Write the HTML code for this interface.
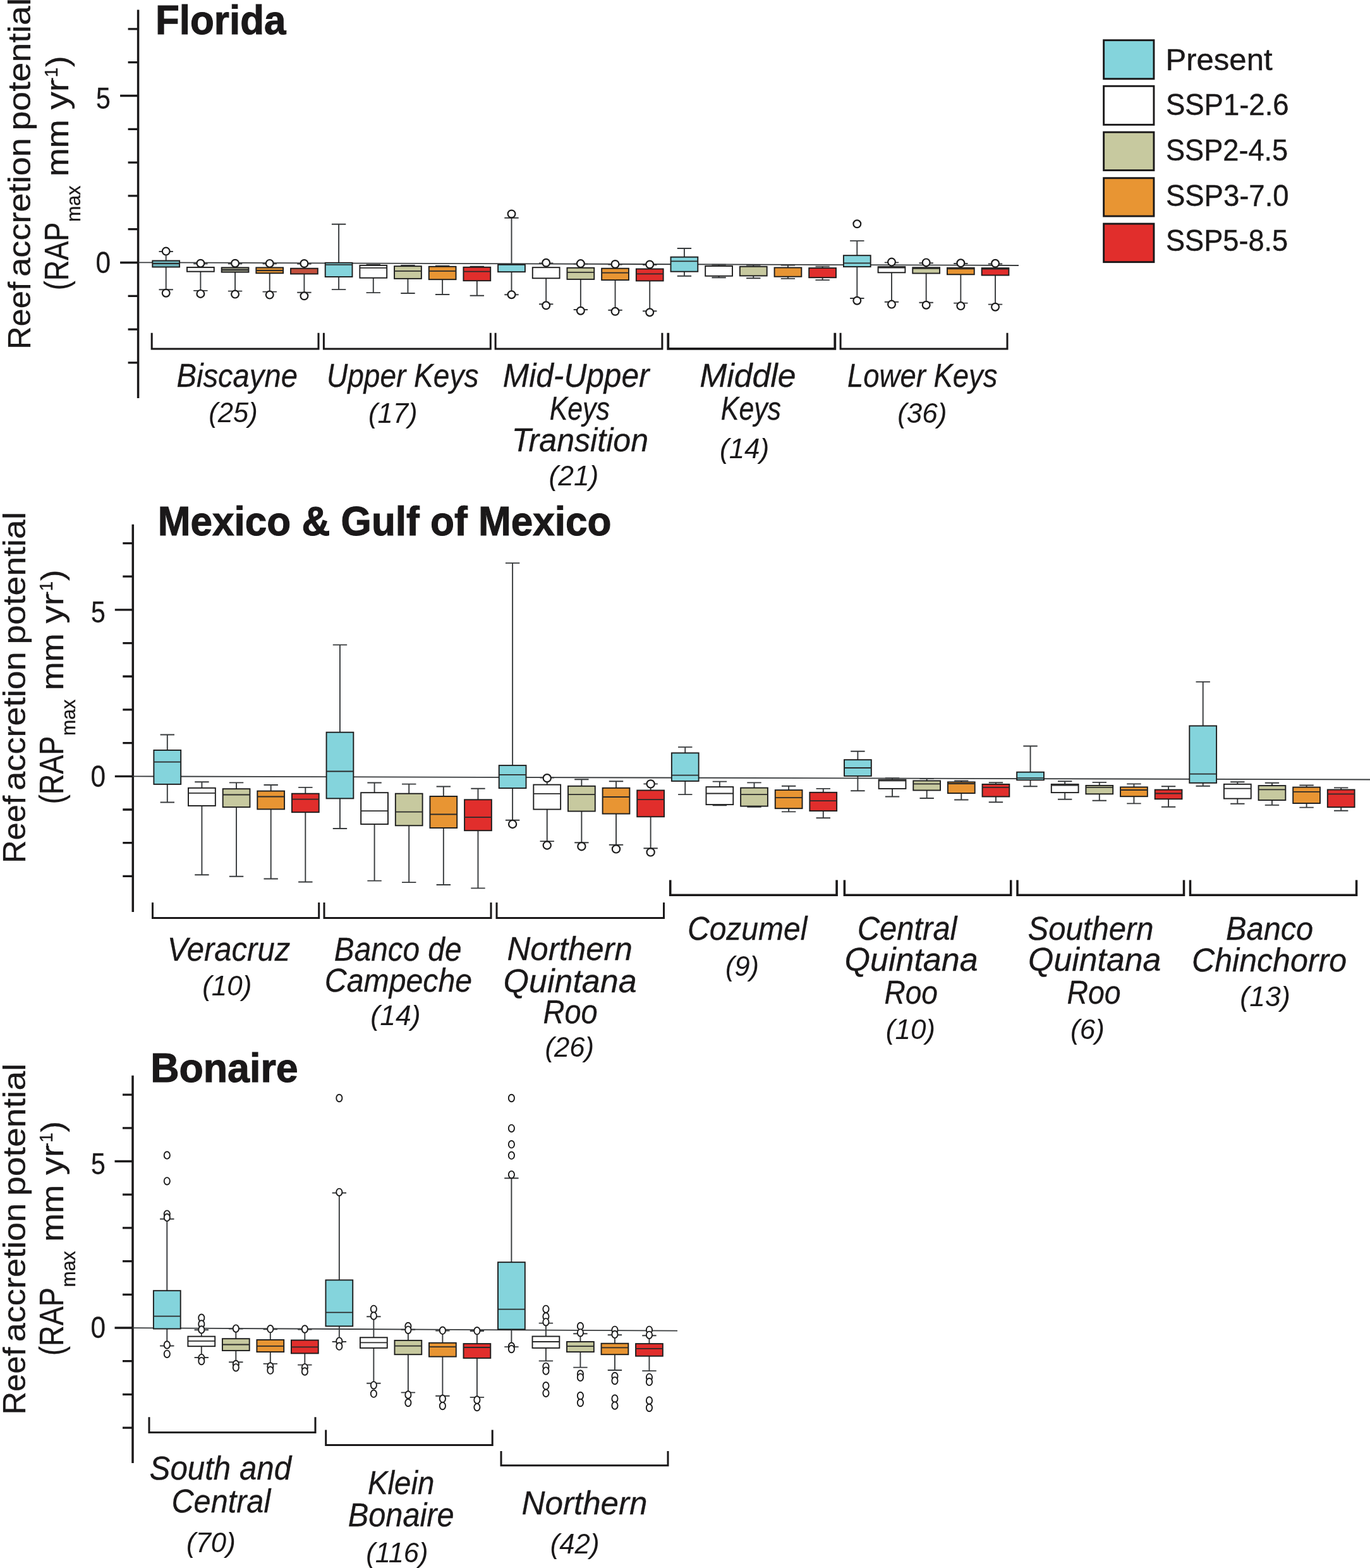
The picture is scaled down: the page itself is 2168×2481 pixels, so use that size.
<!DOCTYPE html>
<html lang="en"><head><meta charset="utf-8"><title>Reef accretion potential</title>
<style>html,body{margin:0;padding:0;background:#fff}svg{display:block}</style></head>
<body>
<svg width="2168" height="2481" viewBox="0 0 2168 2481" font-family="'Liberation Sans', Arial, sans-serif" fill="#1a1819">
<rect width="2168" height="2481" fill="#fff"/>
<g stroke="#1a1819" stroke-width="3.5" fill="none">
<path d="M218.6 15.5V630"/>
<path d="M202.6 573.9H218.6M202.6 521.1H218.6M202.6 468.3H218.6M190.1 415.5H218.6M202.6 362.7H218.6M202.6 309.9H218.6M202.6 257.1H218.6M202.6 204.3H218.6M190.1 151.5H218.6M202.6 98.7H218.6M202.6 45.9H218.6" stroke-width="3.3"/>
</g>
<path d="M219 415.3L1612 420" stroke="#383b3d" stroke-width="1.8" fill="none"/>
<g stroke="#1a1819" stroke-width="3.5" fill="none">
<path d="M210.3 829.7V1443"/>
<path d="M194.3 1386.34H210.3M194.3 1333.66H210.3M194.3 1280.98H210.3M181.8 1228.3H210.3M194.3 1175.62H210.3M194.3 1122.94H210.3M194.3 1070.26H210.3M194.3 1017.58H210.3M181.8 964.9H210.3M194.3 912.22H210.3M194.3 859.54H210.3" stroke-width="3.3"/>
</g>
<path d="M210 1228.4L2168 1233.5" stroke="#383b3d" stroke-width="1.8" fill="none"/>
<g stroke="#1a1819" stroke-width="3.5" fill="none">
<path d="M210 1701.8V2315"/>
<path d="M194 2259.1H210M194 2206.4H210M194 2153.7H210M181.5 2101H210M194 2048.3H210M194 1995.6H210M194 1942.9H210M194 1890.2H210M181.5 1837.5H210M194 1784.8H210M194 1732.1H210" stroke-width="3.3"/>
</g>
<path d="M210 2101.2L1072 2105.7" stroke="#383b3d" stroke-width="1.8" fill="none"/>
<path d="M262.7 412.5V398M251.5 398H273.9M262.7 422.5V458.2M251.5 458.2H273.9" stroke="#383b3d" stroke-width="1.9" fill="none"/><rect x="241.3" y="412.5" width="42.8" height="10" fill="#6fb3bb" stroke="#1d1d1d" stroke-width="1.9"/><path d="M241.3 417H284.1" stroke="#2a2a2a" stroke-width="1.8" fill="none"/><ellipse cx="262.7" cy="397.6" rx="5.9" ry="5.9" fill="#fff" stroke="#1d1d1d" stroke-width="2.2"/><ellipse cx="262.7" cy="463.7" rx="5.9" ry="5.9" fill="#fff" stroke="#1d1d1d" stroke-width="2.2"/>
<path d="M317.38 423V417.2M306.18 417.2H328.58M317.38 429.7V459.9M306.18 459.9H328.58" stroke="#383b3d" stroke-width="1.9" fill="none"/><rect x="295.98" y="423" width="42.8" height="6.7" fill="#f4f4f4" stroke="#1d1d1d" stroke-width="1.9"/><ellipse cx="317.38" cy="416.7" rx="5.9" ry="5.9" fill="#fff" stroke="#1d1d1d" stroke-width="2.2"/><ellipse cx="317.38" cy="464.9" rx="5.9" ry="5.9" fill="#fff" stroke="#1d1d1d" stroke-width="2.2"/>
<path d="M372.06 423.4V417.2M360.86 417.2H383.26M372.06 430.6V460.6M360.86 460.6H383.26" stroke="#383b3d" stroke-width="1.9" fill="none"/><rect x="350.66" y="423.4" width="42.8" height="7.2" fill="#9a9c88" stroke="#1d1d1d" stroke-width="1.9"/><path d="M350.66 427H393.46" stroke="#2a2a2a" stroke-width="1.8" fill="none"/><ellipse cx="372.06" cy="416.7" rx="5.9" ry="5.9" fill="#fff" stroke="#1d1d1d" stroke-width="2.2"/><ellipse cx="372.06" cy="465.6" rx="5.9" ry="5.9" fill="#fff" stroke="#1d1d1d" stroke-width="2.2"/>
<path d="M426.74 423.4V417.4M415.54 417.4H437.94M426.74 432.3V461.6M415.54 461.6H437.94" stroke="#383b3d" stroke-width="1.9" fill="none"/><rect x="405.34" y="423.4" width="42.8" height="8.9" fill="#d98f35" stroke="#1d1d1d" stroke-width="1.9"/><path d="M405.34 428H448.14" stroke="#2a2a2a" stroke-width="1.8" fill="none"/><ellipse cx="426.74" cy="416.9" rx="5.9" ry="5.9" fill="#fff" stroke="#1d1d1d" stroke-width="2.2"/><ellipse cx="426.74" cy="466.6" rx="5.9" ry="5.9" fill="#fff" stroke="#1d1d1d" stroke-width="2.2"/>
<path d="M481.42 424.7V417.6M470.22 417.6H492.62M481.42 433.4V462.7M470.22 462.7H492.62" stroke="#383b3d" stroke-width="1.9" fill="none"/><rect x="460.02" y="424.7" width="42.8" height="8.7" fill="#c4503d" stroke="#1d1d1d" stroke-width="1.9"/><ellipse cx="481.42" cy="417" rx="5.9" ry="5.9" fill="#fff" stroke="#1d1d1d" stroke-width="2.2"/><ellipse cx="481.42" cy="468.3" rx="5.9" ry="5.9" fill="#fff" stroke="#1d1d1d" stroke-width="2.2"/>
<path d="M536.1 415.8V354.7M524.9 354.7H547.3M536.1 438V458.1M524.9 458.1H547.3" stroke="#383b3d" stroke-width="1.9" fill="none"/><rect x="514.7" y="415.8" width="42.8" height="22.2" fill="#84d4dc" stroke="#1d1d1d" stroke-width="1.9"/><path d="M514.7 418.8H557.5" stroke="#2a2a2a" stroke-width="1.8" fill="none"/>
<path d="M590.78 419.9V418.8M579.58 418.8H601.98M590.78 439.7V463.1M579.58 463.1H601.98" stroke="#383b3d" stroke-width="1.9" fill="none"/><rect x="569.38" y="419.9" width="42.8" height="19.8" fill="#ffffff" stroke="#1d1d1d" stroke-width="1.9"/><path d="M569.38 423.8H612.18" stroke="#2a2a2a" stroke-width="1.8" fill="none"/>
<path d="M645.46 421.2V420M634.26 420H656.66M645.46 440.9V464M634.26 464H656.66" stroke="#383b3d" stroke-width="1.9" fill="none"/><rect x="624.06" y="421.2" width="42.8" height="19.7" fill="#c7c99f" stroke="#1d1d1d" stroke-width="1.9"/><path d="M624.06 428.8H666.86" stroke="#2a2a2a" stroke-width="1.8" fill="none"/>
<path d="M700.14 421.8V420.6M688.94 420.6H711.34M700.14 442.2V466M688.94 466H711.34" stroke="#383b3d" stroke-width="1.9" fill="none"/><rect x="678.74" y="421.8" width="42.8" height="20.4" fill="#e89533" stroke="#1d1d1d" stroke-width="1.9"/><path d="M678.74 428.8H721.54" stroke="#2a2a2a" stroke-width="1.8" fill="none"/>
<path d="M754.82 422.8V421.6M743.62 421.6H766.02M754.82 444.2V467.8M743.62 467.8H766.02" stroke="#383b3d" stroke-width="1.9" fill="none"/><rect x="733.42" y="422.8" width="42.8" height="21.4" fill="#e12e2c" stroke="#1d1d1d" stroke-width="1.9"/><path d="M733.42 429.7H776.22" stroke="#2a2a2a" stroke-width="1.8" fill="none"/>
<path d="M809.5 418.8V344.8M798.3 344.8H820.7M809.5 430.2V466.2M798.3 466.2H820.7" stroke="#383b3d" stroke-width="1.9" fill="none"/><rect x="788.1" y="418.8" width="42.8" height="11.4" fill="#84d4dc" stroke="#1d1d1d" stroke-width="1.9"/><ellipse cx="809.5" cy="338.5" rx="5.9" ry="5.9" fill="#fff" stroke="#1d1d1d" stroke-width="2.2"/><ellipse cx="809.5" cy="466.2" rx="5.9" ry="5.9" fill="#fff" stroke="#1d1d1d" stroke-width="2.2"/>
<path d="M864.18 423.2V416.5M852.98 416.5H875.38M864.18 440.3V481.3M852.98 481.3H875.38" stroke="#383b3d" stroke-width="1.9" fill="none"/><rect x="842.78" y="423.2" width="42.8" height="17.1" fill="#ffffff" stroke="#1d1d1d" stroke-width="1.9"/><ellipse cx="864.18" cy="415.8" rx="5.9" ry="5.9" fill="#fff" stroke="#1d1d1d" stroke-width="2.2"/><ellipse cx="864.18" cy="483.3" rx="5.9" ry="5.9" fill="#fff" stroke="#1d1d1d" stroke-width="2.2"/>
<path d="M918.86 423.8V417.6M907.66 417.6H930.06M918.86 441.9V490M907.66 490H930.06" stroke="#383b3d" stroke-width="1.9" fill="none"/><rect x="897.46" y="423.8" width="42.8" height="18.1" fill="#c7c99f" stroke="#1d1d1d" stroke-width="1.9"/><path d="M897.46 430.9H940.26" stroke="#2a2a2a" stroke-width="1.8" fill="none"/><ellipse cx="918.86" cy="417.1" rx="5.9" ry="5.9" fill="#fff" stroke="#1d1d1d" stroke-width="2.2"/><ellipse cx="918.86" cy="491.7" rx="5.9" ry="5.9" fill="#fff" stroke="#1d1d1d" stroke-width="2.2"/>
<path d="M973.54 424.7V418.5M962.34 418.5H984.74M973.54 443.1V490.8M962.34 490.8H984.74" stroke="#383b3d" stroke-width="1.9" fill="none"/><rect x="952.14" y="424.7" width="42.8" height="18.4" fill="#e89533" stroke="#1d1d1d" stroke-width="1.9"/><path d="M952.14 431.7H994.94" stroke="#2a2a2a" stroke-width="1.8" fill="none"/><ellipse cx="973.54" cy="418" rx="5.9" ry="5.9" fill="#fff" stroke="#1d1d1d" stroke-width="2.2"/><ellipse cx="973.54" cy="492.8" rx="5.9" ry="5.9" fill="#fff" stroke="#1d1d1d" stroke-width="2.2"/>
<path d="M1028.22 425.5V419M1017.02 419H1039.42M1028.22 444.4V492.2M1017.02 492.2H1039.42" stroke="#383b3d" stroke-width="1.9" fill="none"/><rect x="1006.82" y="425.5" width="42.8" height="18.9" fill="#e12e2c" stroke="#1d1d1d" stroke-width="1.9"/><path d="M1006.82 433.4H1049.62" stroke="#2a2a2a" stroke-width="1.8" fill="none"/><ellipse cx="1028.22" cy="418.5" rx="5.9" ry="5.9" fill="#fff" stroke="#1d1d1d" stroke-width="2.2"/><ellipse cx="1028.22" cy="494.2" rx="5.9" ry="5.9" fill="#fff" stroke="#1d1d1d" stroke-width="2.2"/>
<path d="M1082.9 406.7V393M1071.7 393H1094.1M1082.9 429.7V436.7M1071.7 436.7H1094.1" stroke="#383b3d" stroke-width="1.9" fill="none"/><rect x="1061.5" y="406.7" width="42.8" height="23" fill="#84d4dc" stroke="#1d1d1d" stroke-width="1.9"/><path d="M1061.5 413.4H1104.3" stroke="#2a2a2a" stroke-width="1.8" fill="none"/>
<path d="M1137.58 421V418.8M1126.38 418.8H1148.78M1137.58 436.7V439.2M1126.38 439.2H1148.78" stroke="#383b3d" stroke-width="1.9" fill="none"/><rect x="1116.18" y="421" width="42.8" height="15.7" fill="#ffffff" stroke="#1d1d1d" stroke-width="1.9"/>
<path d="M1192.26 421.8V419.6M1181.06 419.6H1203.46M1192.26 436.4V440.2M1181.06 440.2H1203.46" stroke="#383b3d" stroke-width="1.9" fill="none"/><rect x="1170.86" y="421.8" width="42.8" height="14.6" fill="#c7c99f" stroke="#1d1d1d" stroke-width="1.9"/>
<path d="M1246.94 423.5V419.5M1235.74 419.5H1258.14M1246.94 437.7V440.9M1235.74 440.9H1258.14" stroke="#383b3d" stroke-width="1.9" fill="none"/><rect x="1225.54" y="423.5" width="42.8" height="14.2" fill="#e89533" stroke="#1d1d1d" stroke-width="1.9"/>
<path d="M1301.62 424.1V421.6M1290.42 421.6H1312.82M1301.62 439.2V443.1M1290.42 443.1H1312.82" stroke="#383b3d" stroke-width="1.9" fill="none"/><rect x="1280.22" y="424.1" width="42.8" height="15.1" fill="#e12e2c" stroke="#1d1d1d" stroke-width="1.9"/>
<path d="M1356.3 404.2V381.1M1345.1 381.1H1367.5M1356.3 422.1V472M1345.1 472H1367.5" stroke="#383b3d" stroke-width="1.9" fill="none"/><rect x="1334.9" y="404.2" width="42.8" height="17.9" fill="#84d4dc" stroke="#1d1d1d" stroke-width="1.9"/><path d="M1334.9 416.3H1377.7" stroke="#2a2a2a" stroke-width="1.8" fill="none"/><ellipse cx="1356.3" cy="354.3" rx="5.9" ry="5.9" fill="#fff" stroke="#1d1d1d" stroke-width="2.2"/><ellipse cx="1356.3" cy="475.7" rx="5.9" ry="5.9" fill="#fff" stroke="#1d1d1d" stroke-width="2.2"/>
<path d="M1410.98 422.1V415.4M1399.78 415.4H1422.18M1410.98 431.3V477.7M1399.78 477.7H1422.18" stroke="#383b3d" stroke-width="1.9" fill="none"/><rect x="1389.58" y="422.1" width="42.8" height="9.2" fill="#ffffff" stroke="#1d1d1d" stroke-width="1.9"/><path d="M1389.58 423.6H1432.38" stroke="#2a2a2a" stroke-width="1.8" fill="none"/><ellipse cx="1410.98" cy="414.6" rx="5.9" ry="5.9" fill="#fff" stroke="#1d1d1d" stroke-width="2.2"/><ellipse cx="1410.98" cy="481.6" rx="5.9" ry="5.9" fill="#fff" stroke="#1d1d1d" stroke-width="2.2"/>
<path d="M1465.66 423.3V416.2M1454.46 416.2H1476.86M1465.66 432.5V478.7M1454.46 478.7H1476.86" stroke="#383b3d" stroke-width="1.9" fill="none"/><rect x="1444.26" y="423.3" width="42.8" height="9.2" fill="#c7c99f" stroke="#1d1d1d" stroke-width="1.9"/><path d="M1444.26 424.8H1487.06" stroke="#2a2a2a" stroke-width="1.8" fill="none"/><ellipse cx="1465.66" cy="415.4" rx="5.9" ry="5.9" fill="#fff" stroke="#1d1d1d" stroke-width="2.2"/><ellipse cx="1465.66" cy="482.7" rx="5.9" ry="5.9" fill="#fff" stroke="#1d1d1d" stroke-width="2.2"/>
<path d="M1520.34 423.8V417M1509.14 417H1531.54M1520.34 434.3V479.6M1509.14 479.6H1531.54" stroke="#383b3d" stroke-width="1.9" fill="none"/><rect x="1498.94" y="423.8" width="42.8" height="10.5" fill="#e89533" stroke="#1d1d1d" stroke-width="1.9"/><path d="M1498.94 425.3H1541.74" stroke="#2a2a2a" stroke-width="1.8" fill="none"/><ellipse cx="1520.34" cy="416.3" rx="5.9" ry="5.9" fill="#fff" stroke="#1d1d1d" stroke-width="2.2"/><ellipse cx="1520.34" cy="484.1" rx="5.9" ry="5.9" fill="#fff" stroke="#1d1d1d" stroke-width="2.2"/>
<path d="M1575.02 424.1V417.5M1563.82 417.5H1586.22M1575.02 435.5V481.6M1563.82 481.6H1586.22" stroke="#383b3d" stroke-width="1.9" fill="none"/><rect x="1553.62" y="424.1" width="42.8" height="11.4" fill="#e12e2c" stroke="#1d1d1d" stroke-width="1.9"/><path d="M1553.62 425.6H1596.42" stroke="#2a2a2a" stroke-width="1.8" fill="none"/><ellipse cx="1575.02" cy="416.8" rx="5.9" ry="5.9" fill="#fff" stroke="#1d1d1d" stroke-width="2.2"/><ellipse cx="1575.02" cy="485.7" rx="5.9" ry="5.9" fill="#fff" stroke="#1d1d1d" stroke-width="2.2"/>
<path d="M264.8 1187V1162.5M253.6 1162.5H276M264.8 1240.9V1269.5M253.6 1269.5H276" stroke="#383b3d" stroke-width="1.9" fill="none"/><rect x="243.4" y="1187" width="42.8" height="53.9" fill="#84d4dc" stroke="#1d1d1d" stroke-width="1.9"/><path d="M243.4 1205.7H286.2" stroke="#2a2a2a" stroke-width="1.8" fill="none"/>
<path d="M319.43 1246.8V1237.3M308.23 1237.3H330.63M319.43 1275V1384.3M308.23 1384.3H330.63" stroke="#383b3d" stroke-width="1.9" fill="none"/><rect x="298.03" y="1246.8" width="42.8" height="28.2" fill="#ffffff" stroke="#1d1d1d" stroke-width="1.9"/><path d="M298.03 1254.8H340.83" stroke="#2a2a2a" stroke-width="1.8" fill="none"/>
<path d="M374.06 1248.2V1238.4M362.86 1238.4H385.26M374.06 1277.1V1386.8M362.86 1386.8H385.26" stroke="#383b3d" stroke-width="1.9" fill="none"/><rect x="352.66" y="1248.2" width="42.8" height="28.9" fill="#c7c99f" stroke="#1d1d1d" stroke-width="1.9"/><path d="M352.66 1257.5H395.46" stroke="#2a2a2a" stroke-width="1.8" fill="none"/>
<path d="M428.69 1251.6V1242M417.49 1242H439.89M428.69 1280.4V1390.5M417.49 1390.5H439.89" stroke="#383b3d" stroke-width="1.9" fill="none"/><rect x="407.29" y="1251.6" width="42.8" height="28.8" fill="#e89533" stroke="#1d1d1d" stroke-width="1.9"/><path d="M407.29 1260.5H450.09" stroke="#2a2a2a" stroke-width="1.8" fill="none"/>
<path d="M483.32 1255.7V1245.9M472.12 1245.9H494.52M483.32 1285.2V1395.5M472.12 1395.5H494.52" stroke="#383b3d" stroke-width="1.9" fill="none"/><rect x="461.92" y="1255.7" width="42.8" height="29.5" fill="#e12e2c" stroke="#1d1d1d" stroke-width="1.9"/><path d="M461.92 1264.6H504.72" stroke="#2a2a2a" stroke-width="1.8" fill="none"/>
<path d="M537.95 1158.7V1020.4M526.75 1020.4H549.15M537.95 1263.4V1311M526.75 1311H549.15" stroke="#383b3d" stroke-width="1.9" fill="none"/><rect x="516.55" y="1158.7" width="42.8" height="104.7" fill="#84d4dc" stroke="#1d1d1d" stroke-width="1.9"/><path d="M516.55 1220.5H559.35" stroke="#2a2a2a" stroke-width="1.8" fill="none"/>
<path d="M592.58 1254.2V1238.5M581.38 1238.5H603.78M592.58 1304.1V1393.6M581.38 1393.6H603.78" stroke="#383b3d" stroke-width="1.9" fill="none"/><rect x="571.18" y="1254.2" width="42.8" height="49.9" fill="#ffffff" stroke="#1d1d1d" stroke-width="1.9"/><path d="M571.18 1283.1H613.98" stroke="#2a2a2a" stroke-width="1.8" fill="none"/>
<path d="M647.21 1255.7V1240.6M636.01 1240.6H658.41M647.21 1306.3V1396.1M636.01 1396.1H658.41" stroke="#383b3d" stroke-width="1.9" fill="none"/><rect x="625.81" y="1255.7" width="42.8" height="50.6" fill="#c7c99f" stroke="#1d1d1d" stroke-width="1.9"/><path d="M625.81 1284.6H668.61" stroke="#2a2a2a" stroke-width="1.8" fill="none"/>
<path d="M701.84 1260V1244.5M690.64 1244.5H713.04M701.84 1310V1400M690.64 1400H713.04" stroke="#383b3d" stroke-width="1.9" fill="none"/><rect x="680.44" y="1260" width="42.8" height="50" fill="#e89533" stroke="#1d1d1d" stroke-width="1.9"/><path d="M680.44 1288.5H723.24" stroke="#2a2a2a" stroke-width="1.8" fill="none"/>
<path d="M756.47 1265.3V1247.7M745.27 1247.7H767.67M756.47 1314.2V1405.4M745.27 1405.4H767.67" stroke="#383b3d" stroke-width="1.9" fill="none"/><rect x="735.07" y="1265.3" width="42.8" height="48.9" fill="#e12e2c" stroke="#1d1d1d" stroke-width="1.9"/><path d="M735.07 1293.2H777.87" stroke="#2a2a2a" stroke-width="1.8" fill="none"/>
<path d="M811.1 1211.1V890.9M799.9 890.9H822.3M811.1 1247.1V1297.7M799.9 1297.7H822.3" stroke="#383b3d" stroke-width="1.9" fill="none"/><rect x="789.7" y="1211.1" width="42.8" height="36" fill="#84d4dc" stroke="#1d1d1d" stroke-width="1.9"/><path d="M789.7 1225.8H832.5" stroke="#2a2a2a" stroke-width="1.8" fill="none"/><ellipse cx="811.1" cy="1304" rx="6.1" ry="6.1" fill="#fff" stroke="#1d1d1d" stroke-width="2.2"/>
<path d="M865.73 1241.6V1230.6M854.53 1230.6H876.93M865.73 1280.6V1331.1M854.53 1331.1H876.93" stroke="#383b3d" stroke-width="1.9" fill="none"/><rect x="844.33" y="1241.6" width="42.8" height="39" fill="#ffffff" stroke="#1d1d1d" stroke-width="1.9"/><path d="M844.33 1255.8H887.13" stroke="#2a2a2a" stroke-width="1.8" fill="none"/><ellipse cx="865.73" cy="1231.2" rx="6.1" ry="6.1" fill="#fff" stroke="#1d1d1d" stroke-width="2.2"/><ellipse cx="865.73" cy="1337.5" rx="6.1" ry="6.1" fill="#fff" stroke="#1d1d1d" stroke-width="2.2"/>
<path d="M920.36 1243.8V1233.2M909.16 1233.2H931.56M920.36 1283.6V1333.3M909.16 1333.3H931.56" stroke="#383b3d" stroke-width="1.9" fill="none"/><rect x="898.96" y="1243.8" width="42.8" height="39.8" fill="#c7c99f" stroke="#1d1d1d" stroke-width="1.9"/><path d="M898.96 1257.1H941.76" stroke="#2a2a2a" stroke-width="1.8" fill="none"/><ellipse cx="920.36" cy="1339.2" rx="6.1" ry="6.1" fill="#fff" stroke="#1d1d1d" stroke-width="2.2"/>
<path d="M974.99 1246.8V1236.2M963.79 1236.2H986.19M974.99 1287.6V1336.7M963.79 1336.7H986.19" stroke="#383b3d" stroke-width="1.9" fill="none"/><rect x="953.59" y="1246.8" width="42.8" height="40.8" fill="#e89533" stroke="#1d1d1d" stroke-width="1.9"/><path d="M953.59 1261H996.39" stroke="#2a2a2a" stroke-width="1.8" fill="none"/><ellipse cx="974.99" cy="1343.4" rx="6.1" ry="6.1" fill="#fff" stroke="#1d1d1d" stroke-width="2.2"/>
<path d="M1029.62 1250.5V1240.4M1018.42 1240.4H1040.82M1029.62 1292.3V1342.2M1018.42 1342.2H1040.82" stroke="#383b3d" stroke-width="1.9" fill="none"/><rect x="1008.22" y="1250.5" width="42.8" height="41.8" fill="#e12e2c" stroke="#1d1d1d" stroke-width="1.9"/><path d="M1008.22 1265.2H1051.02" stroke="#2a2a2a" stroke-width="1.8" fill="none"/><ellipse cx="1029.62" cy="1240.4" rx="6.1" ry="6.1" fill="#fff" stroke="#1d1d1d" stroke-width="2.2"/><ellipse cx="1029.62" cy="1348.4" rx="6.1" ry="6.1" fill="#fff" stroke="#1d1d1d" stroke-width="2.2"/>
<path d="M1084.25 1191.4V1182.1M1073.05 1182.1H1095.45M1084.25 1235.9V1257.1M1073.05 1257.1H1095.45" stroke="#383b3d" stroke-width="1.9" fill="none"/><rect x="1062.85" y="1191.4" width="42.8" height="44.5" fill="#84d4dc" stroke="#1d1d1d" stroke-width="1.9"/><path d="M1062.85 1226.7H1105.65" stroke="#2a2a2a" stroke-width="1.8" fill="none"/>
<path d="M1138.88 1245.1V1236.6M1127.68 1236.6H1150.08M1138.88 1273.1V1274.2M1127.68 1274.2H1150.08" stroke="#383b3d" stroke-width="1.9" fill="none"/><rect x="1117.48" y="1245.1" width="42.8" height="28" fill="#ffffff" stroke="#1d1d1d" stroke-width="1.9"/><path d="M1117.48 1255.5H1160.28" stroke="#2a2a2a" stroke-width="1.8" fill="none"/>
<path d="M1193.51 1246.6V1238.4M1182.31 1238.4H1204.71M1193.51 1275.6V1276.9M1182.31 1276.9H1204.71" stroke="#383b3d" stroke-width="1.9" fill="none"/><rect x="1172.11" y="1246.6" width="42.8" height="29" fill="#c7c99f" stroke="#1d1d1d" stroke-width="1.9"/><path d="M1172.11 1257.1H1214.91" stroke="#2a2a2a" stroke-width="1.8" fill="none"/>
<path d="M1248.14 1250.1V1243.8M1236.94 1243.8H1259.34M1248.14 1279.2V1284.4M1236.94 1284.4H1259.34" stroke="#383b3d" stroke-width="1.9" fill="none"/><rect x="1226.74" y="1250.1" width="42.8" height="29.1" fill="#e89533" stroke="#1d1d1d" stroke-width="1.9"/><path d="M1226.74 1262.2H1269.54" stroke="#2a2a2a" stroke-width="1.8" fill="none"/>
<path d="M1302.77 1253.8V1247.9M1291.57 1247.9H1313.97M1302.77 1283.1V1294.3M1291.57 1294.3H1313.97" stroke="#383b3d" stroke-width="1.9" fill="none"/><rect x="1281.37" y="1253.8" width="42.8" height="29.3" fill="#e12e2c" stroke="#1d1d1d" stroke-width="1.9"/><path d="M1281.37 1267.2H1324.17" stroke="#2a2a2a" stroke-width="1.8" fill="none"/>
<path d="M1357.4 1202.2V1188.8M1346.2 1188.8H1368.6M1357.4 1227.9V1251.3M1346.2 1251.3H1368.6" stroke="#383b3d" stroke-width="1.9" fill="none"/><rect x="1336" y="1202.2" width="42.8" height="25.7" fill="#84d4dc" stroke="#1d1d1d" stroke-width="1.9"/><path d="M1336 1215H1378.8" stroke="#2a2a2a" stroke-width="1.8" fill="none"/>
<path d="M1412.03 1233.7V1231.2M1400.83 1231.2H1423.23M1412.03 1247.9V1260.5M1400.83 1260.5H1423.23" stroke="#383b3d" stroke-width="1.9" fill="none"/><rect x="1390.63" y="1233.7" width="42.8" height="14.2" fill="#ffffff" stroke="#1d1d1d" stroke-width="1.9"/><path d="M1390.63 1235.3H1433.43" stroke="#2a2a2a" stroke-width="1.8" fill="none"/>
<path d="M1466.66 1235.4V1232M1455.46 1232H1477.86M1466.66 1250.5V1263M1455.46 1263H1477.86" stroke="#383b3d" stroke-width="1.9" fill="none"/><rect x="1445.26" y="1235.4" width="42.8" height="15.1" fill="#c7c99f" stroke="#1d1d1d" stroke-width="1.9"/><path d="M1445.26 1240.4H1488.06" stroke="#2a2a2a" stroke-width="1.8" fill="none"/>
<path d="M1521.29 1237.4V1235.4M1510.09 1235.4H1532.49M1521.29 1255.1V1265.5M1510.09 1265.5H1532.49" stroke="#383b3d" stroke-width="1.9" fill="none"/><rect x="1499.89" y="1237.4" width="42.8" height="17.7" fill="#e89533" stroke="#1d1d1d" stroke-width="1.9"/><path d="M1499.89 1240H1542.69" stroke="#2a2a2a" stroke-width="1.8" fill="none"/>
<path d="M1575.92 1240.9V1238.2M1564.72 1238.2H1587.12M1575.92 1260.5V1269.2M1564.72 1269.2H1587.12" stroke="#383b3d" stroke-width="1.9" fill="none"/><rect x="1554.52" y="1240.9" width="42.8" height="19.6" fill="#e12e2c" stroke="#1d1d1d" stroke-width="1.9"/><path d="M1554.52 1245.8H1597.32" stroke="#2a2a2a" stroke-width="1.8" fill="none"/>
<path d="M1630.55 1221.7V1180.5M1619.35 1180.5H1641.75M1630.55 1234.2V1244.3M1619.35 1244.3H1641.75" stroke="#383b3d" stroke-width="1.9" fill="none"/><rect x="1609.15" y="1221.7" width="42.8" height="12.5" fill="#84d4dc" stroke="#1d1d1d" stroke-width="1.9"/><path d="M1609.15 1231.2H1651.95" stroke="#2a2a2a" stroke-width="1.8" fill="none"/>
<path d="M1685.18 1240.9V1236.2M1673.98 1236.2H1696.38M1685.18 1254.1V1264.7M1673.98 1264.7H1696.38" stroke="#383b3d" stroke-width="1.9" fill="none"/><rect x="1663.78" y="1240.9" width="42.8" height="13.2" fill="#ffffff" stroke="#1d1d1d" stroke-width="1.9"/><path d="M1663.78 1242.6H1706.58" stroke="#2a2a2a" stroke-width="1.8" fill="none"/>
<path d="M1739.81 1242.9V1237.9M1728.61 1237.9H1751.01M1739.81 1256.3V1266.7M1728.61 1266.7H1751.01" stroke="#383b3d" stroke-width="1.9" fill="none"/><rect x="1718.41" y="1242.9" width="42.8" height="13.4" fill="#c7c99f" stroke="#1d1d1d" stroke-width="1.9"/><path d="M1718.41 1245.8H1761.21" stroke="#2a2a2a" stroke-width="1.8" fill="none"/>
<path d="M1794.44 1245.4V1240.4M1783.24 1240.4H1805.64M1794.44 1260.2V1271.4M1783.24 1271.4H1805.64" stroke="#383b3d" stroke-width="1.9" fill="none"/><rect x="1773.04" y="1245.4" width="42.8" height="14.8" fill="#e89533" stroke="#1d1d1d" stroke-width="1.9"/><path d="M1773.04 1250H1815.84" stroke="#2a2a2a" stroke-width="1.8" fill="none"/>
<path d="M1849.07 1249.6V1244.3M1837.87 1244.3H1860.27M1849.07 1264.3V1276.7M1837.87 1276.7H1860.27" stroke="#383b3d" stroke-width="1.9" fill="none"/><rect x="1827.67" y="1249.6" width="42.8" height="14.7" fill="#e12e2c" stroke="#1d1d1d" stroke-width="1.9"/><path d="M1827.67 1255.5H1870.47" stroke="#2a2a2a" stroke-width="1.8" fill="none"/>
<path d="M1903.7 1148.5V1078.9M1892.5 1078.9H1914.9M1903.7 1238.8V1243.7M1892.5 1243.7H1914.9" stroke="#383b3d" stroke-width="1.9" fill="none"/><rect x="1882.3" y="1148.5" width="42.8" height="90.3" fill="#84d4dc" stroke="#1d1d1d" stroke-width="1.9"/><path d="M1882.3 1224.6H1925.1" stroke="#2a2a2a" stroke-width="1.8" fill="none"/>
<path d="M1958.33 1240.8V1237.2M1947.13 1237.2H1969.53M1958.33 1263.6V1271.8M1947.13 1271.8H1969.53" stroke="#383b3d" stroke-width="1.9" fill="none"/><rect x="1936.93" y="1240.8" width="42.8" height="22.8" fill="#ffffff" stroke="#1d1d1d" stroke-width="1.9"/><path d="M1936.93 1247.6H1979.73" stroke="#2a2a2a" stroke-width="1.8" fill="none"/>
<path d="M2012.96 1243.1V1238.8M2001.76 1238.8H2024.16M2012.96 1266.1V1273.9M2001.76 1273.9H2024.16" stroke="#383b3d" stroke-width="1.9" fill="none"/><rect x="1991.56" y="1243.1" width="42.8" height="23" fill="#c7c99f" stroke="#1d1d1d" stroke-width="1.9"/><path d="M1991.56 1249.3H2034.36" stroke="#2a2a2a" stroke-width="1.8" fill="none"/>
<path d="M2067.59 1245.6V1242.5M2056.39 1242.5H2078.79M2067.59 1271V1277.6M2056.39 1277.6H2078.79" stroke="#383b3d" stroke-width="1.9" fill="none"/><rect x="2046.19" y="1245.6" width="42.8" height="25.4" fill="#e89533" stroke="#1d1d1d" stroke-width="1.9"/><path d="M2046.19 1252.8H2088.99" stroke="#2a2a2a" stroke-width="1.8" fill="none"/>
<path d="M2122.22 1249.5V1246.4M2111.02 1246.4H2133.42M2122.22 1277.2V1282.7M2111.02 1282.7H2133.42" stroke="#383b3d" stroke-width="1.9" fill="none"/><rect x="2100.82" y="1249.5" width="42.8" height="27.7" fill="#e12e2c" stroke="#1d1d1d" stroke-width="1.9"/><path d="M2100.82 1256.4H2143.62" stroke="#2a2a2a" stroke-width="1.8" fill="none"/>
<path d="M264.3 2042.2V1928.7M253.1 1928.7H275.5M264.3 2102.5V2129.5M253.1 2129.5H275.5" stroke="#383b3d" stroke-width="1.9" fill="none"/><rect x="242.9" y="2042.2" width="42.8" height="60.3" fill="#84d4dc" stroke="#1d1d1d" stroke-width="1.9"/><path d="M242.9 2082.6H285.7" stroke="#2a2a2a" stroke-width="1.8" fill="none"/><ellipse cx="264.3" cy="1827.9" rx="4.6" ry="5.7" fill="#fff" stroke="#1d1d1d" stroke-width="1.9"/><ellipse cx="264.3" cy="1868.8" rx="4.6" ry="5.7" fill="#fff" stroke="#1d1d1d" stroke-width="1.9"/><ellipse cx="264.3" cy="1921.1" rx="4.6" ry="5.7" fill="#fff" stroke="#1d1d1d" stroke-width="1.9"/><ellipse cx="264.3" cy="1926.4" rx="4.6" ry="5.7" fill="#fff" stroke="#1d1d1d" stroke-width="1.9"/><ellipse cx="264.3" cy="2128" rx="4.6" ry="5.7" fill="#fff" stroke="#1d1d1d" stroke-width="1.9"/><ellipse cx="264.3" cy="2142.3" rx="4.6" ry="5.7" fill="#fff" stroke="#1d1d1d" stroke-width="1.9"/>
<path d="M318.81 2114.6V2104.2M307.61 2104.2H330.01M318.81 2130.2V2148M307.61 2148H330.01" stroke="#383b3d" stroke-width="1.9" fill="none"/><rect x="297.41" y="2114.6" width="42.8" height="15.6" fill="#ffffff" stroke="#1d1d1d" stroke-width="1.9"/><path d="M297.41 2121.8H340.21" stroke="#2a2a2a" stroke-width="1.8" fill="none"/><ellipse cx="318.81" cy="2085.2" rx="4.6" ry="5.7" fill="#fff" stroke="#1d1d1d" stroke-width="1.9"/><ellipse cx="318.81" cy="2095" rx="4.6" ry="5.7" fill="#fff" stroke="#1d1d1d" stroke-width="1.9"/><ellipse cx="318.81" cy="2103.9" rx="4.6" ry="5.7" fill="#fff" stroke="#1d1d1d" stroke-width="1.9"/><ellipse cx="318.81" cy="2148.6" rx="4.6" ry="5.7" fill="#fff" stroke="#1d1d1d" stroke-width="1.9"/><ellipse cx="318.81" cy="2153.6" rx="4.6" ry="5.7" fill="#fff" stroke="#1d1d1d" stroke-width="1.9"/>
<path d="M373.32 2118.2V2102.6M362.12 2102.6H384.52M373.32 2137V2155.2M362.12 2155.2H384.52" stroke="#383b3d" stroke-width="1.9" fill="none"/><rect x="351.92" y="2118.2" width="42.8" height="18.8" fill="#c7c99f" stroke="#1d1d1d" stroke-width="1.9"/><path d="M351.92 2127.5H394.72" stroke="#2a2a2a" stroke-width="1.8" fill="none"/><ellipse cx="373.32" cy="2102.1" rx="4.6" ry="5.7" fill="#fff" stroke="#1d1d1d" stroke-width="1.9"/><ellipse cx="373.32" cy="2158.4" rx="4.6" ry="5.7" fill="#fff" stroke="#1d1d1d" stroke-width="1.9"/><ellipse cx="373.32" cy="2163.8" rx="4.6" ry="5.7" fill="#fff" stroke="#1d1d1d" stroke-width="1.9"/>
<path d="M427.83 2120V2103.2M416.63 2103.2H439.03M427.83 2139.1V2157.9M416.63 2157.9H439.03" stroke="#383b3d" stroke-width="1.9" fill="none"/><rect x="406.43" y="2120" width="42.8" height="19.1" fill="#e89533" stroke="#1d1d1d" stroke-width="1.9"/><path d="M406.43 2129.8H449.23" stroke="#2a2a2a" stroke-width="1.8" fill="none"/><ellipse cx="427.83" cy="2102.7" rx="4.6" ry="5.7" fill="#fff" stroke="#1d1d1d" stroke-width="1.9"/><ellipse cx="427.83" cy="2162" rx="4.6" ry="5.7" fill="#fff" stroke="#1d1d1d" stroke-width="1.9"/><ellipse cx="427.83" cy="2168.2" rx="4.6" ry="5.7" fill="#fff" stroke="#1d1d1d" stroke-width="1.9"/>
<path d="M482.34 2120.5V2103.5M471.14 2103.5H493.54M482.34 2141.4V2159.6M471.14 2159.6H493.54" stroke="#383b3d" stroke-width="1.9" fill="none"/><rect x="460.94" y="2120.5" width="42.8" height="20.9" fill="#e12e2c" stroke="#1d1d1d" stroke-width="1.9"/><path d="M460.94 2131.3H503.74" stroke="#2a2a2a" stroke-width="1.8" fill="none"/><ellipse cx="482.34" cy="2103" rx="4.6" ry="5.7" fill="#fff" stroke="#1d1d1d" stroke-width="1.9"/><ellipse cx="482.34" cy="2163.8" rx="4.6" ry="5.7" fill="#fff" stroke="#1d1d1d" stroke-width="1.9"/><ellipse cx="482.34" cy="2170" rx="4.6" ry="5.7" fill="#fff" stroke="#1d1d1d" stroke-width="1.9"/>
<path d="M536.85 2025.4V1887.5M525.65 1887.5H548.05M536.85 2098.4V2123M525.65 2123H548.05" stroke="#383b3d" stroke-width="1.9" fill="none"/><rect x="515.45" y="2025.4" width="42.8" height="73" fill="#84d4dc" stroke="#1d1d1d" stroke-width="1.9"/><path d="M515.45 2076.6H558.25" stroke="#2a2a2a" stroke-width="1.8" fill="none"/><ellipse cx="536.85" cy="1737.5" rx="4.6" ry="5.7" fill="#fff" stroke="#1d1d1d" stroke-width="1.9"/><ellipse cx="536.85" cy="1886.3" rx="4.6" ry="5.7" fill="#fff" stroke="#1d1d1d" stroke-width="1.9"/><ellipse cx="536.85" cy="2122.1" rx="4.6" ry="5.7" fill="#fff" stroke="#1d1d1d" stroke-width="1.9"/><ellipse cx="536.85" cy="2130.2" rx="4.6" ry="5.7" fill="#fff" stroke="#1d1d1d" stroke-width="1.9"/>
<path d="M591.36 2116.3V2083.2M580.16 2083.2H602.56M591.36 2132.9V2188.8M580.16 2188.8H602.56" stroke="#383b3d" stroke-width="1.9" fill="none"/><rect x="569.96" y="2116.3" width="42.8" height="16.6" fill="#ffffff" stroke="#1d1d1d" stroke-width="1.9"/><path d="M569.96 2124.3H612.76" stroke="#2a2a2a" stroke-width="1.8" fill="none"/><ellipse cx="591.36" cy="2071.3" rx="4.6" ry="5.7" fill="#fff" stroke="#1d1d1d" stroke-width="1.9"/><ellipse cx="591.36" cy="2082" rx="4.6" ry="5.7" fill="#fff" stroke="#1d1d1d" stroke-width="1.9"/><ellipse cx="591.36" cy="2191.8" rx="4.6" ry="5.7" fill="#fff" stroke="#1d1d1d" stroke-width="1.9"/><ellipse cx="591.36" cy="2205.2" rx="4.6" ry="5.7" fill="#fff" stroke="#1d1d1d" stroke-width="1.9"/>
<path d="M645.87 2120.9V2103.8M634.67 2103.8H657.07M645.87 2143.2V2203.4M634.67 2203.4H657.07" stroke="#383b3d" stroke-width="1.9" fill="none"/><rect x="624.47" y="2120.9" width="42.8" height="22.3" fill="#c7c99f" stroke="#1d1d1d" stroke-width="1.9"/><path d="M624.47 2129.6H667.27" stroke="#2a2a2a" stroke-width="1.8" fill="none"/><ellipse cx="645.87" cy="2098.4" rx="4.6" ry="5.7" fill="#fff" stroke="#1d1d1d" stroke-width="1.9"/><ellipse cx="645.87" cy="2104.3" rx="4.6" ry="5.7" fill="#fff" stroke="#1d1d1d" stroke-width="1.9"/><ellipse cx="645.87" cy="2207" rx="4.6" ry="5.7" fill="#fff" stroke="#1d1d1d" stroke-width="1.9"/><ellipse cx="645.87" cy="2219.5" rx="4.6" ry="5.7" fill="#fff" stroke="#1d1d1d" stroke-width="1.9"/>
<path d="M700.38 2124.8V2105.5M689.18 2105.5H711.58M700.38 2146.6V2208.8M689.18 2208.8H711.58" stroke="#383b3d" stroke-width="1.9" fill="none"/><rect x="678.98" y="2124.8" width="42.8" height="21.8" fill="#e89533" stroke="#1d1d1d" stroke-width="1.9"/><path d="M678.98 2131.1H721.78" stroke="#2a2a2a" stroke-width="1.8" fill="none"/><ellipse cx="700.38" cy="2105.2" rx="4.6" ry="5.7" fill="#fff" stroke="#1d1d1d" stroke-width="1.9"/><ellipse cx="700.38" cy="2213.2" rx="4.6" ry="5.7" fill="#fff" stroke="#1d1d1d" stroke-width="1.9"/><ellipse cx="700.38" cy="2224.5" rx="4.6" ry="5.7" fill="#fff" stroke="#1d1d1d" stroke-width="1.9"/>
<path d="M754.89 2126.1V2106M743.69 2106H766.09M754.89 2148.9V2210.9M743.69 2210.9H766.09" stroke="#383b3d" stroke-width="1.9" fill="none"/><rect x="733.49" y="2126.1" width="42.8" height="22.8" fill="#e12e2c" stroke="#1d1d1d" stroke-width="1.9"/><path d="M733.49 2132H776.29" stroke="#2a2a2a" stroke-width="1.8" fill="none"/><ellipse cx="754.89" cy="2105.7" rx="4.6" ry="5.7" fill="#fff" stroke="#1d1d1d" stroke-width="1.9"/><ellipse cx="754.89" cy="2215" rx="4.6" ry="5.7" fill="#fff" stroke="#1d1d1d" stroke-width="1.9"/><ellipse cx="754.89" cy="2226.6" rx="4.6" ry="5.7" fill="#fff" stroke="#1d1d1d" stroke-width="1.9"/>
<path d="M809.4 1997.2V1864.3M798.2 1864.3H820.6M809.4 2103.4V2131.1M798.2 2131.1H820.6" stroke="#383b3d" stroke-width="1.9" fill="none"/><rect x="788" y="1997.2" width="42.8" height="106.2" fill="#84d4dc" stroke="#1d1d1d" stroke-width="1.9"/><path d="M788 2071.6H830.8" stroke="#2a2a2a" stroke-width="1.8" fill="none"/><ellipse cx="809.4" cy="1737.5" rx="4.6" ry="5.7" fill="#fff" stroke="#1d1d1d" stroke-width="1.9"/><ellipse cx="809.4" cy="1785.3" rx="4.6" ry="5.7" fill="#fff" stroke="#1d1d1d" stroke-width="1.9"/><ellipse cx="809.4" cy="1810.7" rx="4.6" ry="5.7" fill="#fff" stroke="#1d1d1d" stroke-width="1.9"/><ellipse cx="809.4" cy="1828.2" rx="4.6" ry="5.7" fill="#fff" stroke="#1d1d1d" stroke-width="1.9"/><ellipse cx="809.4" cy="1858.6" rx="4.6" ry="5.7" fill="#fff" stroke="#1d1d1d" stroke-width="1.9"/><ellipse cx="809.4" cy="2130.2" rx="4.6" ry="5.7" fill="#fff" stroke="#1d1d1d" stroke-width="1.9"/><ellipse cx="809.4" cy="2134.6" rx="4.6" ry="5.7" fill="#fff" stroke="#1d1d1d" stroke-width="1.9"/>
<path d="M863.91 2114.5V2093.6M852.71 2093.6H875.11M863.91 2132.9V2153.4M852.71 2153.4H875.11" stroke="#383b3d" stroke-width="1.9" fill="none"/><rect x="842.51" y="2114.5" width="42.8" height="18.4" fill="#ffffff" stroke="#1d1d1d" stroke-width="1.9"/><path d="M842.51 2123H885.31" stroke="#2a2a2a" stroke-width="1.8" fill="none"/><ellipse cx="863.91" cy="2071.3" rx="4.6" ry="5.7" fill="#fff" stroke="#1d1d1d" stroke-width="1.9"/><ellipse cx="863.91" cy="2082.9" rx="4.6" ry="5.7" fill="#fff" stroke="#1d1d1d" stroke-width="1.9"/><ellipse cx="863.91" cy="2091.8" rx="4.6" ry="5.7" fill="#fff" stroke="#1d1d1d" stroke-width="1.9"/><ellipse cx="863.91" cy="2162.3" rx="4.6" ry="5.7" fill="#fff" stroke="#1d1d1d" stroke-width="1.9"/><ellipse cx="863.91" cy="2169.1" rx="4.6" ry="5.7" fill="#fff" stroke="#1d1d1d" stroke-width="1.9"/><ellipse cx="863.91" cy="2192.7" rx="4.6" ry="5.7" fill="#fff" stroke="#1d1d1d" stroke-width="1.9"/><ellipse cx="863.91" cy="2204.3" rx="4.6" ry="5.7" fill="#fff" stroke="#1d1d1d" stroke-width="1.9"/>
<path d="M918.42 2123V2110.2M907.22 2110.2H929.62M918.42 2139.1V2163.6M907.22 2163.6H929.62" stroke="#383b3d" stroke-width="1.9" fill="none"/><rect x="897.02" y="2123" width="42.8" height="16.1" fill="#c7c99f" stroke="#1d1d1d" stroke-width="1.9"/><path d="M897.02 2130.2H939.82" stroke="#2a2a2a" stroke-width="1.8" fill="none"/><ellipse cx="918.42" cy="2098.4" rx="4.6" ry="5.7" fill="#fff" stroke="#1d1d1d" stroke-width="1.9"/><ellipse cx="918.42" cy="2108.8" rx="4.6" ry="5.7" fill="#fff" stroke="#1d1d1d" stroke-width="1.9"/><ellipse cx="918.42" cy="2173.9" rx="4.6" ry="5.7" fill="#fff" stroke="#1d1d1d" stroke-width="1.9"/><ellipse cx="918.42" cy="2179.3" rx="4.6" ry="5.7" fill="#fff" stroke="#1d1d1d" stroke-width="1.9"/><ellipse cx="918.42" cy="2208.5" rx="4.6" ry="5.7" fill="#fff" stroke="#1d1d1d" stroke-width="1.9"/><ellipse cx="918.42" cy="2219.5" rx="4.6" ry="5.7" fill="#fff" stroke="#1d1d1d" stroke-width="1.9"/>
<path d="M972.93 2125.7V2112.3M961.73 2112.3H984.13M972.93 2143.2V2168M961.73 2168H984.13" stroke="#383b3d" stroke-width="1.9" fill="none"/><rect x="951.53" y="2125.7" width="42.8" height="17.5" fill="#e89533" stroke="#1d1d1d" stroke-width="1.9"/><path d="M951.53 2132.3H994.33" stroke="#2a2a2a" stroke-width="1.8" fill="none"/><ellipse cx="972.93" cy="2104.3" rx="4.6" ry="5.7" fill="#fff" stroke="#1d1d1d" stroke-width="1.9"/><ellipse cx="972.93" cy="2111.4" rx="4.6" ry="5.7" fill="#fff" stroke="#1d1d1d" stroke-width="1.9"/><ellipse cx="972.93" cy="2177.5" rx="4.6" ry="5.7" fill="#fff" stroke="#1d1d1d" stroke-width="1.9"/><ellipse cx="972.93" cy="2184.6" rx="4.6" ry="5.7" fill="#fff" stroke="#1d1d1d" stroke-width="1.9"/><ellipse cx="972.93" cy="2213" rx="4.6" ry="5.7" fill="#fff" stroke="#1d1d1d" stroke-width="1.9"/><ellipse cx="972.93" cy="2224" rx="4.6" ry="5.7" fill="#fff" stroke="#1d1d1d" stroke-width="1.9"/>
<path d="M1027.44 2126.1V2113.2M1016.24 2113.2H1038.64M1027.44 2145.7V2169.1M1016.24 2169.1H1038.64" stroke="#383b3d" stroke-width="1.9" fill="none"/><rect x="1006.04" y="2126.1" width="42.8" height="19.6" fill="#e12e2c" stroke="#1d1d1d" stroke-width="1.9"/><path d="M1006.04 2133.8H1048.84" stroke="#2a2a2a" stroke-width="1.8" fill="none"/><ellipse cx="1027.44" cy="2104.3" rx="4.6" ry="5.7" fill="#fff" stroke="#1d1d1d" stroke-width="1.9"/><ellipse cx="1027.44" cy="2112.3" rx="4.6" ry="5.7" fill="#fff" stroke="#1d1d1d" stroke-width="1.9"/><ellipse cx="1027.44" cy="2179.3" rx="4.6" ry="5.7" fill="#fff" stroke="#1d1d1d" stroke-width="1.9"/><ellipse cx="1027.44" cy="2186.4" rx="4.6" ry="5.7" fill="#fff" stroke="#1d1d1d" stroke-width="1.9"/><ellipse cx="1027.44" cy="2216" rx="4.6" ry="5.7" fill="#fff" stroke="#1d1d1d" stroke-width="1.9"/><ellipse cx="1027.44" cy="2227.5" rx="4.6" ry="5.7" fill="#fff" stroke="#1d1d1d" stroke-width="1.9"/>
<path d="M240.2 526.8V551.9H504V526.8" stroke="#1a1819" stroke-width="3.0" fill="none" stroke-linejoin="miter"/>
<path d="M512.4 526.8V551.9H776.3V526.8" stroke="#1a1819" stroke-width="3.0" fill="none" stroke-linejoin="miter"/>
<path d="M784.1 526.8V551.9H1047.9V526.8" stroke="#1a1819" stroke-width="3.0" fill="none" stroke-linejoin="miter"/>
<path d="M1057.3 526.8V551.9H1321.3V526.8" stroke="#1a1819" stroke-width="3.8" fill="none" stroke-linejoin="miter"/>
<path d="M1330.1 526.8V551.9H1594V526.8" stroke="#1a1819" stroke-width="3.0" fill="none" stroke-linejoin="miter"/>
<path d="M241.5 1427.9V1452.4H504.7V1427.9" stroke="#1a1819" stroke-width="3.0" fill="none" stroke-linejoin="miter"/>
<path d="M513 1427.9V1452.4H777V1427.9" stroke="#1a1819" stroke-width="3.0" fill="none" stroke-linejoin="miter"/>
<path d="M786 1427.9V1452.4H1050.5V1427.9" stroke="#1a1819" stroke-width="3.0" fill="none" stroke-linejoin="miter"/>
<path d="M1060.7 1392.5V1416.2H1324.1V1392.5" stroke="#1a1819" stroke-width="3.6" fill="none" stroke-linejoin="miter"/>
<path d="M1336.4 1392.5V1416.2H1599.7V1392.5" stroke="#1a1819" stroke-width="3.5" fill="none" stroke-linejoin="miter"/>
<path d="M1610 1392.5V1416.2H1873.5V1392.5" stroke="#1a1819" stroke-width="3.5" fill="none" stroke-linejoin="miter"/>
<path d="M1883.5 1392.5V1416.2H2146.6V1392.5" stroke="#1a1819" stroke-width="3.5" fill="none" stroke-linejoin="miter"/>
<path d="M236 2242.3V2266.5H499V2242.3" stroke="#1a1819" stroke-width="3.0" fill="none" stroke-linejoin="miter"/>
<path d="M515.7 2262.4V2286.5H779.2V2262.4" stroke="#1a1819" stroke-width="3.0" fill="none" stroke-linejoin="miter"/>
<path d="M793 2296V2318.8H1057V2296" stroke="#1a1819" stroke-width="3.0" fill="none" stroke-linejoin="miter"/>
<rect x="1746.65" y="63.65" width="79.3" height="61.1" fill="#84d4dc" stroke="#1a1819" stroke-width="2.9"/>
<rect x="1746.65" y="136.25" width="79.3" height="61.1" fill="#ffffff" stroke="#1a1819" stroke-width="2.9"/>
<rect x="1746.65" y="209.15" width="79.3" height="60.3" fill="#c7c99f" stroke="#1a1819" stroke-width="2.9"/>
<rect x="1746.65" y="281.75" width="79.3" height="60.3" fill="#e89533" stroke="#1a1819" stroke-width="2.9"/>
<rect x="1746.65" y="354.05" width="79.3" height="60.6" fill="#e12e2c" stroke="#1a1819" stroke-width="2.9"/>
<text transform="translate(246.03 53.6) scale(0.9673 1)" font-size="64.0" style="font-weight:bold" stroke="#1a1819" stroke-width="1.1">Florida</text>
<text transform="translate(249.72 846.6) scale(0.9707 1)" font-size="64.0" style="font-weight:bold" stroke="#1a1819" stroke-width="1.1">Mexico &amp; Gulf of Mexico</text>
<text transform="translate(238.18 1711.8) scale(0.9803 1)" font-size="64.0" style="font-weight:bold" stroke="#1a1819" stroke-width="1.1">Bonaire</text>
<text transform="translate(1844.5 110.5) scale(1.0330 1)" font-size="47.5" stroke="#1a1819" stroke-width="0.4">Present</text>
<text transform="translate(1844.89 182.3) scale(0.9575 1)" font-size="47.5" stroke="#1a1819" stroke-width="0.4">SSP1-2.6</text>
<text transform="translate(1844.9 253.6) scale(0.9510 1)" font-size="47.5" stroke="#1a1819" stroke-width="0.4">SSP2-4.5</text>
<text transform="translate(1844.89 326) scale(0.9575 1)" font-size="47.5" stroke="#1a1819" stroke-width="0.4">SSP3-7.0</text>
<text transform="translate(1844.9 397.3) scale(0.9510 1)" font-size="47.5" stroke="#1a1819" stroke-width="0.4">SSP5-8.5</text>
<text transform="translate(279.48 612.2) scale(0.9165 1)" font-size="51.5" style="font-style:italic" stroke="#1a1819" stroke-width="0.3">Biscayne</text>
<text transform="translate(330.3 667.6) scale(1.0004 1)" font-size="43.5" style="font-style:italic">(25)</text>
<text transform="translate(517.02 612.2) scale(0.8936 1)" font-size="51.5" style="font-style:italic" stroke="#1a1819" stroke-width="0.3">Upper Keys</text>
<text transform="translate(583 668.6) scale(1.0018 1)" font-size="43.5" style="font-style:italic">(17)</text>
<text transform="translate(795.84 612.2) scale(0.9646 1)" font-size="51.5" style="font-style:italic" stroke="#1a1819" stroke-width="0.3">Mid-Upper</text>
<text transform="translate(869.67 664) scale(0.8311 1)" font-size="51.5" style="font-style:italic" stroke="#1a1819" stroke-width="0.3">Keys</text>
<text transform="translate(809.71 714.3) scale(0.9734 1)" font-size="51.5" style="font-style:italic" stroke="#1a1819" stroke-width="0.3">Transition</text>
<text transform="translate(868.46 768) scale(1.0196 1)" font-size="43.5" style="font-style:italic">(21)</text>
<text transform="translate(1107.2 612.2) scale(1.0042 1)" font-size="51.5" style="font-style:italic" stroke="#1a1819" stroke-width="0.3">Middle</text>
<text transform="translate(1140.87 664) scale(0.8311 1)" font-size="51.5" style="font-style:italic" stroke="#1a1819" stroke-width="0.3">Keys</text>
<text transform="translate(1138.98 724.5) scale(1.0114 1)" font-size="43.5" style="font-style:italic">(14)</text>
<text transform="translate(1341.02 612.2) scale(0.8828 1)" font-size="51.5" style="font-style:italic" stroke="#1a1819" stroke-width="0.3">Lower Keys</text>
<text transform="translate(1420.18 668.6) scale(1.0114 1)" font-size="43.5" style="font-style:italic">(36)</text>
<text transform="translate(264.79 1519.5) scale(0.9525 1)" font-size="51.5" style="font-style:italic" stroke="#1a1819" stroke-width="0.3">Veracruz</text>
<text transform="translate(320.18 1575.3) scale(1.0114 1)" font-size="43.5" style="font-style:italic">(10)</text>
<text transform="translate(528.87 1519.5) scale(0.9266 1)" font-size="51.5" style="font-style:italic" stroke="#1a1819" stroke-width="0.3">Banco de</text>
<text transform="translate(513.83 1569.1) scale(0.9372 1)" font-size="51.5" style="font-style:italic" stroke="#1a1819" stroke-width="0.3">Campeche</text>
<text transform="translate(586.35 1622.2) scale(1.0237 1)" font-size="43.5" style="font-style:italic">(14)</text>
<text transform="translate(802.51 1519) scale(0.9908 1)" font-size="51.5" style="font-style:italic" stroke="#1a1819" stroke-width="0.3">Northern</text>
<text transform="translate(796.48 1569.8) scale(1.0108 1)" font-size="51.5" style="font-style:italic" stroke="#1a1819" stroke-width="0.3">Quintana</text>
<text transform="translate(859.49 1619.4) scale(0.9114 1)" font-size="51.5" style="font-style:italic" stroke="#1a1819" stroke-width="0.3">Roo</text>
<text transform="translate(862.5 1671.8) scale(1.0018 1)" font-size="43.5" style="font-style:italic">(26)</text>
<text transform="translate(1087.93 1486.5) scale(0.9331 1)" font-size="51.5" style="font-style:italic" stroke="#1a1819" stroke-width="0.3">Cozumel</text>
<text transform="translate(1148 1544.2) scale(0.9984 1)" font-size="43.5" style="font-style:italic">(9)</text>
<text transform="translate(1356.7 1486.5) scale(0.9506 1)" font-size="51.5" style="font-style:italic" stroke="#1a1819" stroke-width="0.3">Central</text>
<text transform="translate(1336.48 1536.4) scale(1.0108 1)" font-size="51.5" style="font-style:italic" stroke="#1a1819" stroke-width="0.3">Quintana</text>
<text transform="translate(1399.51 1587.6) scale(0.8940 1)" font-size="51.5" style="font-style:italic" stroke="#1a1819" stroke-width="0.3">Roo</text>
<text transform="translate(1401.78 1644) scale(1.0114 1)" font-size="43.5" style="font-style:italic">(10)</text>
<text transform="translate(1626.55 1486.5) scale(0.9521 1)" font-size="51.5" style="font-style:italic" stroke="#1a1819" stroke-width="0.3">Southern</text>
<text transform="translate(1627.09 1536.4) scale(1.0060 1)" font-size="51.5" style="font-style:italic" stroke="#1a1819" stroke-width="0.3">Quintana</text>
<text transform="translate(1688.5 1587.6) scale(0.9005 1)" font-size="51.5" style="font-style:italic" stroke="#1a1819" stroke-width="0.3">Roo</text>
<text transform="translate(1694.08 1644) scale(1.0107 1)" font-size="43.5" style="font-style:italic">(6)</text>
<text transform="translate(1940.05 1487.1) scale(0.9464 1)" font-size="51.5" style="font-style:italic" stroke="#1a1819" stroke-width="0.3">Banco</text>
<text transform="translate(1885.95 1537.4) scale(0.9736 1)" font-size="51.5" style="font-style:italic" stroke="#1a1819" stroke-width="0.3">Chinchorro</text>
<text transform="translate(1962.35 1592.1) scale(1.0265 1)" font-size="43.5" style="font-style:italic">(13)</text>
<text transform="translate(236.54 2341.3) scale(0.9567 1)" font-size="51.5" style="font-style:italic" stroke="#1a1819" stroke-width="0.3">South and</text>
<text transform="translate(271.51 2393.1) scale(0.9440 1)" font-size="51.5" style="font-style:italic" stroke="#1a1819" stroke-width="0.3">Central</text>
<text transform="translate(294.89 2455.9) scale(1.0073 1)" font-size="43.5" style="font-style:italic">(70)</text>
<text transform="translate(581.88 2364.1) scale(0.9216 1)" font-size="51.5" style="font-style:italic" stroke="#1a1819" stroke-width="0.3">Klein</text>
<text transform="translate(550.65 2415) scale(0.9470 1)" font-size="51.5" style="font-style:italic" stroke="#1a1819" stroke-width="0.3">Bonaire</text>
<text transform="translate(579.3 2471.5) scale(0.9986 1)" font-size="43.5" style="font-style:italic">(116)</text>
<text transform="translate(825.61 2396.3) scale(0.9923 1)" font-size="51.5" style="font-style:italic" stroke="#1a1819" stroke-width="0.3">Northern</text>
<text transform="translate(870.79 2458.4) scale(1.0045 1)" font-size="43.5" style="font-style:italic">(42)</text>
<text transform="translate(152.05 172.4) scale(0.8542 1)" font-size="48.0" stroke="#1a1819" stroke-width="0.3">5</text>
<text transform="translate(151.52 431.6) scale(0.8833 1)" font-size="48.0" stroke="#1a1819" stroke-width="0.3">0</text>
<text transform="translate(47.5 549) rotate(-90)"><tspan x="-4.01" y="0" font-size="50.5" textLength="107.04" lengthAdjust="spacingAndGlyphs" stroke="#1a1819" stroke-width="0.25">Reef</tspan> <tspan x="111.26" y="0" font-size="50.5" textLength="219.65" lengthAdjust="spacingAndGlyphs" stroke="#1a1819" stroke-width="0.25">accretion</tspan> <tspan x="342.5" y="0" font-size="50.5" textLength="209.73" lengthAdjust="spacingAndGlyphs" stroke="#1a1819" stroke-width="0.25">potential</tspan></text>
<text transform="translate(107.5 456.8) rotate(-90)"><tspan x="-2.55" y="0" font-size="53.0" textLength="107.75" lengthAdjust="spacingAndGlyphs" stroke="#1a1819" stroke-width="0.25">(RAP</tspan><tspan x="105.91" y="19.8" font-size="32.0" textLength="57.19" lengthAdjust="spacingAndGlyphs" stroke="#1a1819" stroke-width="0.3">max</tspan> <tspan x="177.59" y="0" font-size="50.5" textLength="89.99" lengthAdjust="spacingAndGlyphs" stroke="#1a1819" stroke-width="0.25">mm</tspan> <tspan x="283.2" y="0" font-size="50.5" textLength="47.22" lengthAdjust="spacingAndGlyphs" stroke="#1a1819" stroke-width="0.25">yr</tspan><tspan x="325.38" y="-16.8" font-size="30.0" textLength="24.55" lengthAdjust="spacingAndGlyphs" stroke="#1a1819" stroke-width="0.3">-1</tspan><tspan x="350.8" y="0" font-size="50.5" textLength="17.54" lengthAdjust="spacingAndGlyphs" stroke="#1a1819" stroke-width="0.25">)</tspan></text>
<text transform="translate(144.05 985.4) scale(0.8542 1)" font-size="48.0" stroke="#1a1819" stroke-width="0.3">5</text>
<text transform="translate(143.52 1244.6) scale(0.8833 1)" font-size="48.0" stroke="#1a1819" stroke-width="0.3">0</text>
<text transform="translate(39.5 1362) rotate(-90)"><tspan x="-4.01" y="0" font-size="50.5" textLength="107.04" lengthAdjust="spacingAndGlyphs" stroke="#1a1819" stroke-width="0.25">Reef</tspan> <tspan x="111.26" y="0" font-size="50.5" textLength="219.65" lengthAdjust="spacingAndGlyphs" stroke="#1a1819" stroke-width="0.25">accretion</tspan> <tspan x="342.5" y="0" font-size="50.5" textLength="209.73" lengthAdjust="spacingAndGlyphs" stroke="#1a1819" stroke-width="0.25">potential</tspan></text>
<text transform="translate(99.5 1269.8) rotate(-90)"><tspan x="-2.55" y="0" font-size="53.0" textLength="107.75" lengthAdjust="spacingAndGlyphs" stroke="#1a1819" stroke-width="0.25">(RAP</tspan><tspan x="105.91" y="19.8" font-size="32.0" textLength="57.19" lengthAdjust="spacingAndGlyphs" stroke="#1a1819" stroke-width="0.3">max</tspan> <tspan x="177.59" y="0" font-size="50.5" textLength="89.99" lengthAdjust="spacingAndGlyphs" stroke="#1a1819" stroke-width="0.25">mm</tspan> <tspan x="283.2" y="0" font-size="50.5" textLength="47.22" lengthAdjust="spacingAndGlyphs" stroke="#1a1819" stroke-width="0.25">yr</tspan><tspan x="325.38" y="-16.8" font-size="30.0" textLength="24.55" lengthAdjust="spacingAndGlyphs" stroke="#1a1819" stroke-width="0.3">-1</tspan><tspan x="350.8" y="0" font-size="50.5" textLength="17.54" lengthAdjust="spacingAndGlyphs" stroke="#1a1819" stroke-width="0.25">)</tspan></text>
<text transform="translate(144.05 1858) scale(0.8542 1)" font-size="48.0" stroke="#1a1819" stroke-width="0.3">5</text>
<text transform="translate(143.52 2117.2) scale(0.8833 1)" font-size="48.0" stroke="#1a1819" stroke-width="0.3">0</text>
<text transform="translate(39.5 2234.6) rotate(-90)"><tspan x="-4.01" y="0" font-size="50.5" textLength="107.04" lengthAdjust="spacingAndGlyphs" stroke="#1a1819" stroke-width="0.25">Reef</tspan> <tspan x="111.26" y="0" font-size="50.5" textLength="219.65" lengthAdjust="spacingAndGlyphs" stroke="#1a1819" stroke-width="0.25">accretion</tspan> <tspan x="342.5" y="0" font-size="50.5" textLength="209.73" lengthAdjust="spacingAndGlyphs" stroke="#1a1819" stroke-width="0.25">potential</tspan></text>
<text transform="translate(99.5 2142.4) rotate(-90)"><tspan x="-2.55" y="0" font-size="53.0" textLength="107.75" lengthAdjust="spacingAndGlyphs" stroke="#1a1819" stroke-width="0.25">(RAP</tspan><tspan x="105.91" y="19.8" font-size="32.0" textLength="57.19" lengthAdjust="spacingAndGlyphs" stroke="#1a1819" stroke-width="0.3">max</tspan> <tspan x="177.59" y="0" font-size="50.5" textLength="89.99" lengthAdjust="spacingAndGlyphs" stroke="#1a1819" stroke-width="0.25">mm</tspan> <tspan x="283.2" y="0" font-size="50.5" textLength="47.22" lengthAdjust="spacingAndGlyphs" stroke="#1a1819" stroke-width="0.25">yr</tspan><tspan x="325.38" y="-16.8" font-size="30.0" textLength="24.55" lengthAdjust="spacingAndGlyphs" stroke="#1a1819" stroke-width="0.3">-1</tspan><tspan x="350.8" y="0" font-size="50.5" textLength="17.54" lengthAdjust="spacingAndGlyphs" stroke="#1a1819" stroke-width="0.25">)</tspan></text>
</svg>
</body></html>
